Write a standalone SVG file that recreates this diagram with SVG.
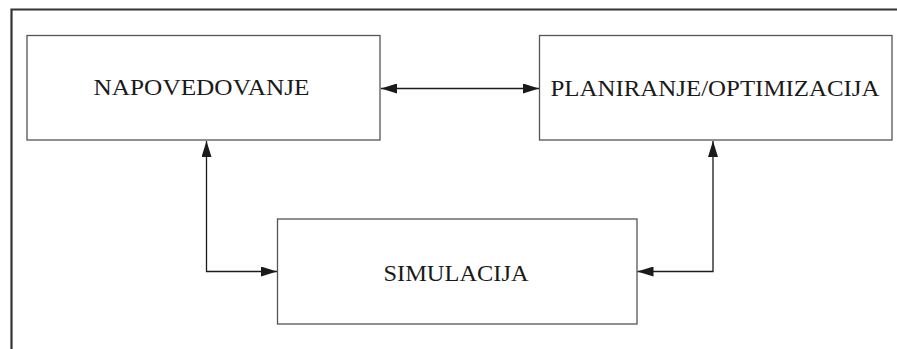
<svg xmlns="http://www.w3.org/2000/svg" width="897" height="349" viewBox="0 0 897 349">
<style>
.box{fill:#fff;stroke:#555;stroke-width:1.3}
.lbl{fill:#1a1a1a;text-anchor:middle;font-family:'Liberation Serif','Times New Roman',serif;font-size:23px}
.con{fill:none;stroke:#1a1a1a;stroke-width:1.3}
.frame{fill:none;stroke:#333;stroke-width:2.2}
</style>
<defs>
<marker id="ah" viewBox="0 0 16 10" refX="16" refY="5" markerWidth="16" markerHeight="10" markerUnits="userSpaceOnUse" orient="auto-start-reverse">
<path d="M0,0 L16,5 L0,10 z" fill="#1a1a1a"/>
</marker>
</defs>
<path class="frame" d="M11.5,349 V9.5 H897"/>
<g id="napovedovanje">
<rect class="box" x="27" y="35.5" width="353" height="104.5"/>
<text class="lbl" x="201.5" y="95" textLength="216" lengthAdjust="spacingAndGlyphs">NAPOVEDOVANJE</text>
</g>
<g id="planiranje">
<rect class="box" x="539.5" y="35.5" width="352.5" height="104.5"/>
<text class="lbl" x="715" y="96" textLength="329" lengthAdjust="spacingAndGlyphs">PLANIRANJE/OPTIMIZACIJA</text>
</g>
<g id="simulacija">
<rect class="box" x="277.5" y="219" width="359.5" height="105"/>
<text class="lbl" x="456" y="280.5" textLength="145" lengthAdjust="spacingAndGlyphs">SIMULACIJA</text>
</g>
<g id="connectors">
<path class="con" d="M381,88.5 H539" marker-start="url(#ah)" marker-end="url(#ah)"/>
<path class="con" d="M206.5,141 V271.5 H277" marker-start="url(#ah)" marker-end="url(#ah)"/>
<path class="con" d="M713,141 V271.5 H637.5" marker-start="url(#ah)" marker-end="url(#ah)"/>
</g>
</svg>
